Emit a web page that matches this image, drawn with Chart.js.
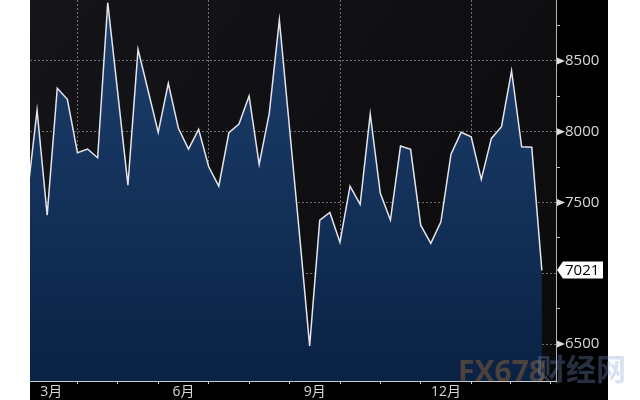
<!DOCTYPE html>
<html>
<head>
<meta charset="utf-8">
<script src="https://cdn.jsdelivr.net/npm/chart.js@4.4.1/dist/chart.umd.min.js"></script>
<style>
  html, body { margin: 0; padding: 0; background: #fff; }
  #wrap { width: 640px; height: 400px; position: relative; }
</style>
</head>
<body>
<div id="wrap"><canvas id="chart" width="640" height="400"></canvas></div>
<script>
// weekly values (first point sits just left of the plot)
const values = [7530, 8153, 7411, 8307, 8229, 7852, 7878, 7816, 8912, 8270,
  7623, 8583, 8290, 7996, 8342, 8024, 7878, 8017, 7753, 7616,
  7993, 8055, 8253, 7770, 8130, 8790, 8030, 7270, 6487, 7376,
  7430, 7220, 7616, 7487, 8125, 7565, 7376, 7899, 7876, 7340,
  7211, 7364, 7842, 7996, 7965, 7664, 7953, 8036, 8431, 7894,
  7890, 7021];
const weeks = values.map((v, i) => i);

// month starts on the week axis (every 3rd one gets a grid line)
const monthStarts = [5.05, 9, 13, 18, 22, 26, 31.1, 35, 39, 44, 47.9, 51.9];
const monthLabels = ["3月", "6月", "9月", "12月"];
const monthLabelPos = [2.4, 15.5, 28.5, 41.5];
const yTicks = [6500, 6750, 7000, 7250, 7500, 7750, 8000, 8250, 8500, 8750];
const lastValue = values[values.length - 1];

const FONT = "'Open Sans', 'Noto Sans CJK SC', sans-serif";
const ctx = document.getElementById("chart").getContext("2d");

const noPad = (s) => {
  s.paddingTop = 0; s.paddingBottom = 0; s.paddingLeft = 0; s.paddingRight = 0;
};

const fillGradient = (context) => {
  const area = context.chart.chartArea;
  if (!area) return "#0f2b52";
  const g = context.chart.ctx.createLinearGradient(0, area.top, 0, area.bottom);
  g.addColorStop(0, "#1d416f");
  g.addColorStop(1, "#0a2244");
  return g;
};

const backgroundPlugin = {
  id: "bg",
  beforeDraw(chart) {
    const c = chart.ctx, a = chart.chartArea;
    c.save();
    c.fillStyle = "#fff";
    c.fillRect(0, 0, chart.width, chart.height);
    c.fillStyle = "#000";
    c.fillRect(a.left, 0, 608 - a.left, chart.height);
    const g = c.createLinearGradient(a.left, a.top, a.right, a.bottom);
    g.addColorStop(0, "#151418");
    g.addColorStop(1, "#0b0b0d");
    c.fillStyle = g;
    c.fillRect(a.left, a.top, a.right - a.left, a.bottom - a.top);
    c.restore();
  },
  afterDraw(chart) {
    const c = chart.ctx, a = chart.chartArea, y = chart.scales.y;
    c.save();
    // triangle markers on the major ticks
    c.fillStyle = "#dcdcdc";
    yTicks.forEach((v) => {
      if (v % 500 !== 0 || v === 7000) return;
      const py = y.getPixelForValue(v);
      c.beginPath();
      c.moveTo(a.right + 1, py - 3.5);
      c.lineTo(a.right + 9, py);
      c.lineTo(a.right + 1, py + 3.5);
      c.closePath();
      c.fill();
    });
    // last value box
    const py = Math.round(y.getPixelForValue(lastValue));
    const x0 = a.right + 1;
    c.fillStyle = "#fff";
    c.beginPath();
    c.moveTo(x0, py);
    c.lineTo(x0 + 6, py - 8.5);
    c.lineTo(x0 + 46, py - 8.5);
    c.lineTo(x0 + 46, py + 8.5);
    c.lineTo(x0 + 6, py + 8.5);
    c.closePath();
    c.fill();
    c.fillStyle = "#000";
    c.font = "15px " + FONT;
    c.textBaseline = "middle";
    c.fillText(String(lastValue), x0 + 8, py + 0.5);
    // watermark
    c.globalAlpha = 0.3;
    c.font = "bold 30px " + FONT;
    c.textBaseline = "alphabetic";
    c.fillStyle = "#e08a2c";
    c.fillText("FX678", 458, 382);
    c.fillStyle = "#7f9fd8";
    c.fillText("财经网", 536, 380);
    c.restore();
  }
};

const config = {
  type: "line",
  data: {
    datasets: [{
      data: values.map((v, i) => ({ x: weeks[i], y: v })),
      borderColor: "#e4e4ea",
      borderWidth: 1.5,
      pointRadius: 0,
      tension: 0,
      fill: "start",
      backgroundColor: fillGradient
    }]
  },
  options: {
    responsive: false,
    animation: false,
    layout: { padding: { left: 30, right: 0, top: 0, bottom: 0 } },
    plugins: { legend: { display: false }, tooltip: { enabled: false } },
    scales: {
      x: {
        type: "linear",
        position: "bottom",
        min: 0.3,
        max: 52.4,
        weight: 0,
        z: 1,
        afterBuildTicks: (s) => { s.ticks = monthStarts.map((v) => ({ value: v })); },
        afterFit: (s) => { s.height = 3; noPad(s); },
        ticks: { display: false },
        grid: {
          color: (c) => (c.index % 3 === 0 ? "rgba(150,150,155,0.7)" : "rgba(0,0,0,0)"),
          tickColor: "#cfcfcf",
          tickLength: 3,
          lineWidth: 1
        },
        border: { color: "#d0d0d0", width: 1, dash: [2, 2] }
      },
      xl: {
        type: "linear",
        position: "bottom",
        min: 0.3,
        max: 52.4,
        weight: 1,
        afterBuildTicks: (s) => { s.ticks = monthLabelPos.map((v) => ({ value: v })); },
        afterFit: (s) => { s.height = 16; noPad(s); },
        ticks: {
          color: "#d6d6d6",
          font: { family: FONT, size: 14 },
          padding: 0,
          maxRotation: 0,
          autoSkip: false,
          callback: (v, i) => monthLabels[i]
        },
        grid: { display: false, drawTicks: false },
        border: { display: false }
      },
      y: {
        position: "right",
        min: 6239,
        max: 8931,
        z: 1,
        afterBuildTicks: (s) => { s.ticks = yTicks.map((v) => ({ value: v })); },
        afterFit: (s) => { s.width = 84; noPad(s); },
        ticks: {
          color: "#d9d9d9",
          font: { family: FONT, size: 15 },
          padding: 5,
          callback: (v) => (v % 500 === 0 && v !== 7000 ? String(v) : "")
        },
        grid: {
          color: (c) => (c.tick && c.tick.value % 500 === 0 ? "rgba(150,150,155,0.7)" : "rgba(0,0,0,0)"),
          tickColor: (c) => (c.tick && c.tick.value % 500 === 0 ? "rgba(0,0,0,0)" : "#bdbdbd"),
          tickLength: 4,
          lineWidth: 1
        },
        border: { color: "#b5b5b5", width: 1, dash: [2, 2] }
      }
    }
  },
  plugins: [backgroundPlugin]
};

const chart = new Chart(ctx, config);
</script>
</body>
</html>
